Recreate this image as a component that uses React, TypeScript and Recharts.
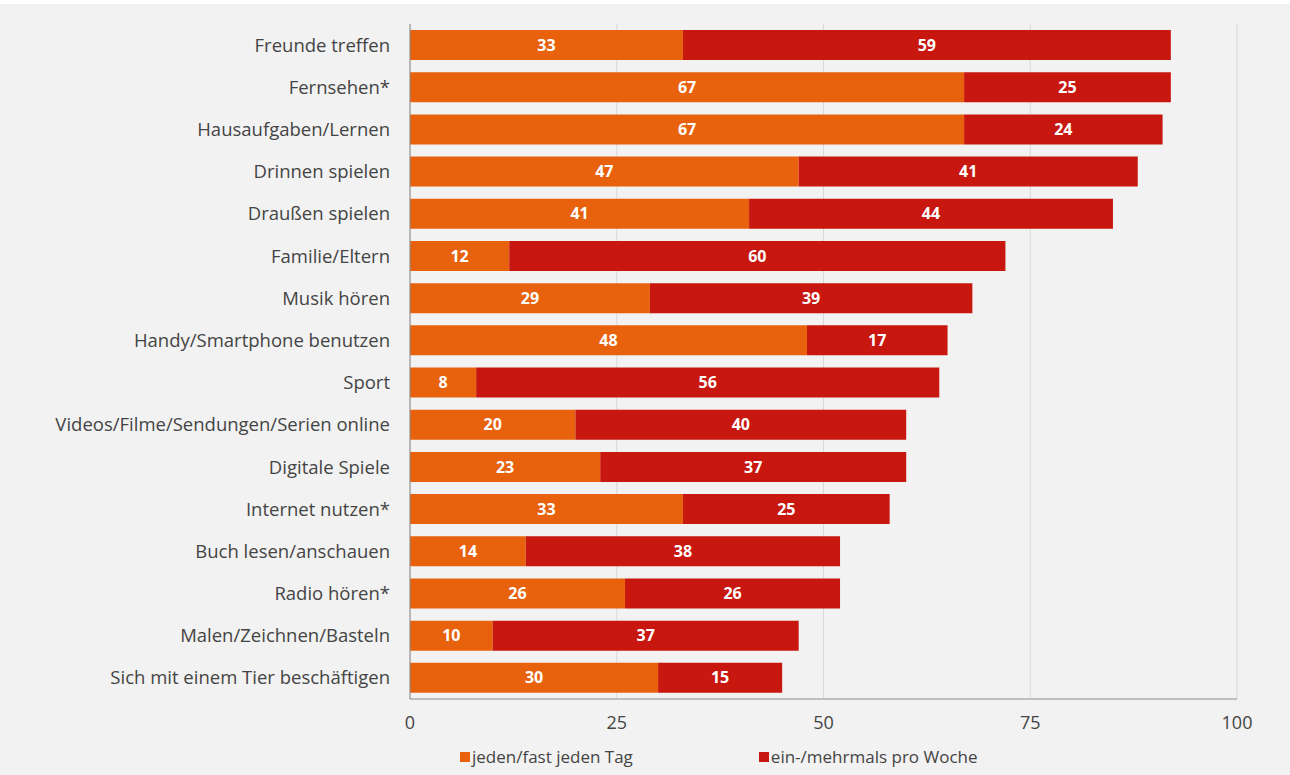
import { Bar, BarChart, CartesianGrid, LabelList, Legend, XAxis, YAxis } from "recharts"

const categories = [
  "Freunde treffen",
  "Fernsehen*",
  "Hausaufgaben/Lernen",
  "Drinnen spielen",
  "Draußen spielen",
  "Familie/Eltern",
  "Musik hören",
  "Handy/Smartphone benutzen",
  "Sport",
  "Videos/Filme/Sendungen/Serien online",
  "Digitale Spiele",
  "Internet nutzen*",
  "Buch lesen/anschauen",
  "Radio hören*",
  "Malen/Zeichnen/Basteln",
  "Sich mit einem Tier beschäftigen",
]

const daily = [33, 67, 67, 47, 41, 12, 29, 48, 8, 20, 23, 33, 14, 26, 10, 30]
const weekly = [59, 25, 24, 41, 44, 60, 39, 17, 56, 40, 37, 25, 38, 26, 37, 15]

const xTicks = [0, 25, 50, 75, 100]

const series = [
  { key: "daily", label: "jeden/fast jeden Tag", color: "#e8620e" },
  { key: "weekly", label: "ein-/mehrmals pro Woche", color: "#c8170f" },
]

const data = categories.map((name, i) => ({ name, daily: daily[i], weekly: weekly[i] }))

const font = "'Open Sans', sans-serif"

function ChartLegend() {
  return (
    <div style={{ display: "flex", fontFamily: font, fontSize: 17, color: "#444", paddingLeft: 460, paddingTop: 16, gap: 126 }}>
      {series.map((s) => (
        <div key={s.key} style={{ display: "flex", alignItems: "center" }}>
          <span style={{ width: 10, height: 10, background: s.color, display: "inline-block", marginRight: 2 }} />
          <span>{s.label}</span>
        </div>
      ))}
    </div>
  )
}

export default function App() {
  return (
    <div style={{ position: "absolute", left: 0, top: 0, width: 1290, height: 775, background: "#f2f2f2" }}>
      <div style={{ position: "absolute", left: 0, top: 0, width: 1290, height: 4, background: "#fff" }} />
      <BarChart
        width={1290}
        height={775}
        data={data}
        layout="vertical"
        barSize={30}
        margin={{ top: 24, right: 53, bottom: 0, left: 6 }}
      >
        <CartesianGrid horizontal={false} stroke="#d8d8d8" />
        <XAxis
          type="number"
          domain={[0, 100]}
          ticks={xTicks}
          tickLine={false}
          axisLine={{ stroke: "#8a8a8a" }}
          tick={{ fill: "#444", fontSize: 18, fontFamily: font }}
          tickMargin={11}
          height={30}
        />
        <YAxis
          type="category"
          dataKey="name"
          width={404}
          tickLine={false}
          axisLine={{ stroke: "#8a8a8a" }}
          tick={{ fill: "#444", fontSize: 18.5, fontFamily: font }}
          tickMargin={14}
          interval={0}
        />
        <Legend
          verticalAlign="bottom"
          content={() => <ChartLegend />}
          wrapperStyle={{ left: 0, width: 1290, bottom: 0, height: 46 }}
        />
        {series.map((s) => (
          <Bar key={s.key} dataKey={s.key} stackId="a" fill={s.color} isAnimationActive={false}>
            <LabelList
              dataKey={s.key}
              position="center"
              fill="#fff"
              style={{ fontFamily: font, fontSize: 16, fontWeight: 700 }}
            />
          </Bar>
        ))}
      </BarChart>
    </div>
  )
}
